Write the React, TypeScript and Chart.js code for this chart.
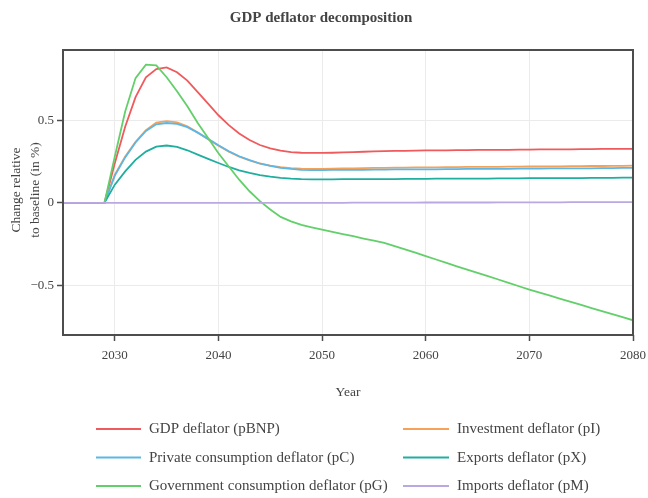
import React, { useEffect, useRef } from "react";
import { Chart, registerables } from "chart.js";

Chart.register(...registerables);

const YEARS = [
  2025, 2026, 2027, 2028, 2029, 2030, 2031, 2032, 2033, 2034, 2035, 2036, 2037, 2038,
  2039, 2040, 2041, 2042, 2043, 2044, 2045, 2046, 2047, 2048, 2049, 2050, 2051, 2052,
  2053, 2054, 2055, 2056, 2057, 2058, 2059, 2060, 2061, 2062, 2063, 2064, 2065, 2066,
  2067, 2068, 2069, 2070, 2071, 2072, 2073, 2074, 2075, 2076, 2077, 2078, 2079, 2080,
];

const P_BNP = [
  0, 0, 0, 0, 0, 0.24, 0.46, 0.64, 0.76, 0.81, 0.82, 0.79, 0.74, 0.67,
  0.6, 0.53, 0.47, 0.42, 0.38, 0.35, 0.33, 0.316, 0.307, 0.303, 0.302, 0.302, 0.303, 0.305,
  0.307, 0.309, 0.311, 0.313, 0.314, 0.315, 0.316, 0.317, 0.318, 0.318, 0.319, 0.319, 0.32, 0.32,
  0.321, 0.321, 0.322, 0.322, 0.323, 0.323, 0.324, 0.324, 0.325, 0.325, 0.326, 0.326, 0.327, 0.327,
];

const P_I = [
  0, 0, 0, 0, 0, 0.17, 0.28, 0.37, 0.44, 0.485, 0.495, 0.487, 0.463, 0.425,
  0.385, 0.345, 0.31, 0.28, 0.257, 0.238, 0.225, 0.216, 0.21, 0.207, 0.206, 0.206, 0.207, 0.208,
  0.209, 0.21, 0.211, 0.212, 0.213, 0.213, 0.214, 0.215, 0.215, 0.216, 0.216, 0.217, 0.217, 0.218,
  0.218, 0.219, 0.219, 0.22, 0.22, 0.221, 0.221, 0.222, 0.222, 0.223, 0.223, 0.224, 0.224, 0.225,
];

const P_C = [
  0, 0, 0, 0, 0, 0.165, 0.275, 0.365, 0.435, 0.475, 0.483, 0.478, 0.458, 0.425,
  0.387, 0.348, 0.312, 0.282, 0.258, 0.238, 0.223, 0.212, 0.205, 0.2, 0.198, 0.198, 0.199, 0.199,
  0.2, 0.2, 0.201, 0.201, 0.202, 0.202, 0.203, 0.203, 0.203, 0.204, 0.204, 0.205, 0.205, 0.205,
  0.206, 0.206, 0.207, 0.207, 0.207, 0.208, 0.208, 0.209, 0.209, 0.209, 0.21, 0.21, 0.211, 0.211,
];

const P_X = [
  0, 0, 0, 0, 0, 0.11, 0.19, 0.26, 0.31, 0.34, 0.347, 0.338, 0.318, 0.292,
  0.266, 0.241, 0.217, 0.197, 0.181, 0.168, 0.158, 0.151, 0.146, 0.143, 0.142, 0.142, 0.142, 0.143,
  0.143, 0.143, 0.144, 0.144, 0.144, 0.145, 0.145, 0.145, 0.146, 0.146, 0.146, 0.147, 0.147, 0.147,
  0.148, 0.148, 0.148, 0.149, 0.149, 0.149, 0.15, 0.15, 0.15, 0.151, 0.151, 0.151, 0.152, 0.152,
];

const P_G = [
  0, 0, 0, 0, 0, 0.28, 0.553, 0.755, 0.836, 0.832, 0.76, 0.675, 0.584, 0.483,
  0.392, 0.3, 0.22, 0.14, 0.07, 0.01, -0.04, -0.085, -0.112, -0.133, -0.148, -0.162, -0.176, -0.189,
  -0.202, -0.216, -0.229, -0.243, -0.262, -0.282, -0.302, -0.323, -0.343, -0.364, -0.384, -0.404, -0.424, -0.444,
  -0.464, -0.485, -0.505, -0.525, -0.544, -0.562, -0.581, -0.6, -0.618, -0.637, -0.655, -0.674, -0.692, -0.711,
];

const P_M = [
  0, 0, 0, 0, 0, 0, 0, 0, 0, 0, 0, 0, 0, 0,
  0, 0, 0, 0, 0, 0, 0, 0, 0, 0, 0, 0, 0, 0,
  0.001, 0.001, 0.001, 0.001, 0.001, 0.001, 0.001, 0.002, 0.002, 0.002, 0.002, 0.002, 0.002, 0.002,
  0.003, 0.003, 0.003, 0.003, 0.003, 0.003, 0.003, 0.004, 0.004, 0.004, 0.004, 0.004, 0.004, 0.004,
];

const SERIES_NAMES = [
  "GDP deflator (pBNP)",
  "Investment deflator (pI)",
  "Private consumption deflator (pC)",
  "Exports deflator (pX)",
  "Government consumption deflator (pG)",
  "Imports deflator (pM)",
];
const SERIES_VALUES = [P_BNP, P_I, P_C, P_X, P_G, P_M];
const SERIES_COLORS = ["#EF5A5C", "#F4A25A", "#5BB7E5", "#1FAE9F", "#63CF6B", "#B9A9E0"];

const X_TICKS = [2030, 2040, 2050, 2060, 2070, 2080];
const Y_TICKS = [-0.5, 0, 0.5];

const TITLE = "GDP deflator decomposition";
const X_TITLE = "Year";
const Y_TITLE = ["Change relative", "to baseline (in %)"];

const FONT = "'Liberation Serif', 'Times New Roman', serif";
const TEXT = "#444";

const decorPlugin = {
  id: "decor",
  afterDatasetsDraw(chart: any) {
    const { ctx, chartArea } = chart;
    ctx.save();
    ctx.strokeStyle = "#4d4d4d";
    ctx.lineWidth = 2;
    ctx.strokeRect(chartArea.left, chartArea.top, chartArea.right - chartArea.left, chartArea.bottom - chartArea.top);
    ctx.restore();
  },
  afterDraw(chart: any) {
    const { ctx, chartArea } = chart;
    ctx.save();
    ctx.fillStyle = TEXT;
    ctx.textAlign = "center";
    ctx.textBaseline = "middle";
    ctx.font = `bold 15px ${FONT}`;
    ctx.fillText(TITLE, 321, 18);

    ctx.font = `13.5px ${FONT}`;
    ctx.fillText(X_TITLE, (chartArea.left + chartArea.right) / 2, 392);

    ctx.save();
    ctx.translate(0, 190);
    ctx.rotate(-Math.PI / 2);
    ctx.fillText(Y_TITLE[0], 0, 16);
    ctx.fillText(Y_TITLE[1], 0, 35);
    ctx.restore();

    // legend
    const cols = [
      { x0: 96, x1: 141, tx: 149 },
      { x0: 403, x1: 449, tx: 457 },
    ];
    const rows = [429, 457.5, 486];
    ctx.font = `15px ${FONT}`;
    ctx.textAlign = "left";
    SERIES_NAMES.forEach((name, i) => {
      const c = cols[i % 2];
      const y = rows[Math.floor(i / 2)];
      ctx.strokeStyle = SERIES_COLORS[i];
      ctx.lineWidth = 2;
      ctx.beginPath();
      ctx.moveTo(c.x0, y);
      ctx.lineTo(c.x1, y);
      ctx.stroke();
      ctx.fillStyle = TEXT;
      ctx.fillText(name, c.tx, y + 0.5);
    });
    ctx.restore();
  },
};

export default function App() {
  const ref = useRef<HTMLCanvasElement>(null);
  useEffect(() => {
    if (!ref.current) return;
    const datasets = SERIES_NAMES.map((name, i) => ({
      label: name,
      data: YEARS.map((yr, j) => ({ x: yr, y: SERIES_VALUES[i][j] })),
      borderColor: SERIES_COLORS[i],
      backgroundColor: SERIES_COLORS[i],
      borderWidth: 1.8,
      pointRadius: 0,
      tension: 0,
      fill: false,
      order: SERIES_NAMES.length - i,
    }));
    const chart = new Chart(ref.current, {
      type: "line",
      data: { datasets },
      plugins: [decorPlugin],
      options: {
        animation: false,
        responsive: true,
        maintainAspectRatio: false,
        layout: { padding: { top: 50, right: 15, left: 0, bottom: 0 } },
        plugins: {
          legend: { display: false },
          title: { display: false },
          tooltip: { enabled: false },
        },
        scales: {
          x: {
            type: "linear",
            min: 2025,
            max: 2080,
            afterBuildTicks: (s: any) => {
              s.ticks = X_TICKS.map((v) => ({ value: v }));
            },
            afterFit: (s: any) => {
              s.height = 163;
              s.paddingLeft = 0;
              s.paddingRight = 0;
            },
            grid: { color: "#ebebeb", lineWidth: 1, tickColor: "#4d4d4d", tickLength: 6, tickWidth: 1.5 },
            border: { display: false },
            ticks: {
              font: { family: FONT, size: 13 },
              color: TEXT,
              padding: 7,
              maxRotation: 0,
              autoSkip: false,
              callback: (v: any) => String(v),
            },
          },
          y: {
            type: "linear",
            min: -0.8,
            max: 0.925,
            afterBuildTicks: (s: any) => {
              s.ticks = Y_TICKS.map((v) => ({ value: v }));
            },
            afterFit: (s: any) => {
              s.width = 63;
              s.paddingTop = 0;
              s.paddingBottom = 0;
            },
            grid: { color: "#ebebeb", lineWidth: 1, tickColor: "#4d4d4d", tickLength: 6, tickWidth: 1.5 },
            border: { display: false },
            ticks: {
              font: { family: FONT, size: 13 },
              color: TEXT,
              padding: 3,
              autoSkip: false,
              callback: (v: any) => (v < 0 ? "\u2212" + Math.abs(v) : String(v)),
            },
          },
        },
      },
    } as any);
    return () => chart.destroy();
  }, []);
  return (
    <div style={{ position: "fixed", left: 0, top: 0, width: 648, height: 498, background: "#fff" }}>
      <canvas ref={ref} />
    </div>
  );
}
